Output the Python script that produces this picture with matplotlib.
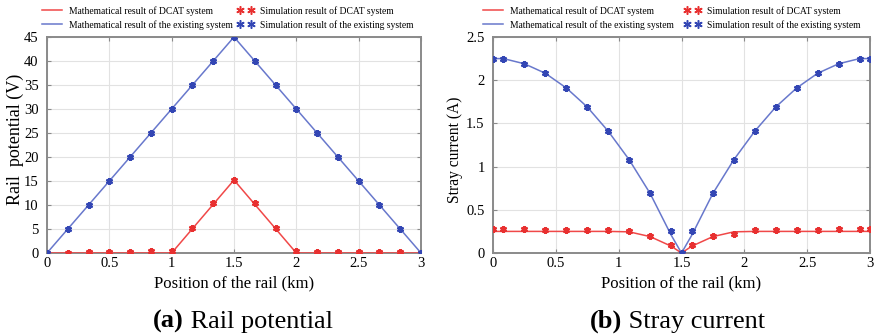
import matplotlib
matplotlib.use("Agg")
import matplotlib.pyplot as plt
from matplotlib.lines import Line2D

plt.rcParams['font.family'] = ['Liberation Serif', 'DejaVu Serif']

# ---- data: (a) rail potential ----
xa = [0, 1/6, 2/6, 3/6, 4/6, 5/6, 1, 7/6, 8/6, 9/6, 10/6, 11/6, 2, 13/6, 14/6, 15/6, 16/6, 17/6, 3]
a_exist_math = [0, 5, 10, 15, 20, 25, 30, 35, 40, 45, 40, 35, 30, 25, 20, 15, 10, 5, 0]
a_exist_sim = [0, 5, 10, 15, 20, 25, 30, 35, 40, 45, 40, 35, 30, 25, 20, 15, 10, 5, 0]
xa_dcat_line = [0, 1, 1.5, 2, 3]
a_dcat_math = [0, 0, 15.2, 0, 0]
a_dcat_sim = [0.1, 0.1, 0.2, 0.2, 0.3, 0.4, 0.4, 5.3, 10.4, 15.3, 10.4, 5.3, 0.4, 0.3, 0.2, 0.2, 0.2, 0.2, 0.1]

# ---- data: (b) stray current ----
xb = [0, 1/12, 3/12, 5/12, 7/12, 9/12, 11/12, 13/12, 15/12, 17/12, 1.5,
      19/12, 21/12, 23/12, 25/12, 27/12, 29/12, 31/12, 33/12, 35/12, 3]
b_exist_math = [2.25, 2.25, 2.19, 2.08, 1.91, 1.69, 1.41, 1.08, 0.69, 0.21, 0.0,
                0.21, 0.69, 1.08, 1.41, 1.69, 1.91, 2.08, 2.19, 2.25, 2.25]
b_exist_sim = [2.25, 2.25, 2.19, 2.08, 1.91, 1.69, 1.41, 1.08, 0.69, 0.25, 0.0,
               0.25, 0.69, 1.08, 1.41, 1.69, 1.91, 2.08, 2.19, 2.25, 2.25]
b_dcat_math = [0.25, 0.25, 0.25, 0.25, 0.25, 0.25, 0.25, 0.245, 0.19, 0.08, 0.0,
               0.08, 0.19, 0.245, 0.25, 0.25, 0.25, 0.25, 0.25, 0.25, 0.25]
b_dcat_sim = [0.28, 0.28, 0.28, 0.27, 0.27, 0.27, 0.27, 0.26, 0.2, 0.09, 0.0,
              0.09, 0.2, 0.22, 0.27, 0.27, 0.27, 0.27, 0.28, 0.28, 0.28]

xticks = [0, 0.5, 1, 1.5, 2, 2.5, 3]
xticklabels = ['0', '0.5', '1', '1.5', '2', '2.5', '3']
ya_ticks = [0, 5, 10, 15, 20, 25, 30, 35, 40, 45]
yb_ticks = [0, 0.5, 1, 1.5, 2, 2.5]
yb_ticklabels = ['0', '0.5', '1', '1.5', '2', '2.5']

math_labels = ['Mathematical result of DCAT system',
               'Mathematical result of the existing system']
sim_labels = ['Simulation result of DCAT system',
              'Simulation result of the existing system']

RED_L = '#f04848'
BLUE_L = '#6878cc'
RED_M = '#e83030'
BLUE_M = '#3346b4'
AST = (6, 2, 0)

W, H = 880, 335
fig = plt.figure(figsize=(8.8, 3.35), dpi=100)
axA = fig.add_axes([47 / W, 1 - 253 / H, 374 / W, 216 / H])
axB = fig.add_axes([493 / W, 1 - 253 / H, 377 / W, 216 / H])


def style(ax):
    ax.grid(True, color='#e2e2e2', linewidth=0.8)
    ax.set_axisbelow(True)
    for s in ax.spines.values():
        s.set_color('#8a8a8a')
        s.set_linewidth(1.4)
    ax.tick_params(direction='in', length=3, color='#8a8a8a', labelsize=10.5,
                   top=True, right=True)
    ax.tick_params(axis='y', pad=6)
    ax.tick_params(axis='x', pad=3)
    ax.set_xticks(xticks)
    ax.set_xticklabels(xticklabels)
    ax.set_xlim(0, 3)
    ax.set_xlabel('Position of the rail (km)', fontsize=12, labelpad=4)


FS = 6.9
EM = FS * 100 / 72


def legends(x_line, x_mark):
    top = 1 - 6 / H
    h1 = [Line2D([], [], color=RED_L, lw=1.1),
          Line2D([], [], color=BLUE_L, lw=1.1)]
    fig.legend(h1, math_labels, loc='upper left',
               bbox_to_anchor=(x_line / W, top), frameon=False,
               fontsize=FS, handlelength=20 / EM, handletextpad=7 / EM,
               labelspacing=0.45, borderpad=0, borderaxespad=0)
    h2 = [Line2D([], [], color=RED_M, ls='none', marker=AST, ms=6, mew=1.1),
          Line2D([], [], color=BLUE_M, ls='none', marker=AST, ms=6, mew=1.1)]
    fig.legend(h2, sim_labels, loc='upper left',
               bbox_to_anchor=((x_mark - 3) / W, top), frameon=False,
               fontsize=FS, numpoints=2, handlelength=17 / EM,
               handletextpad=6 / EM, labelspacing=0.45, borderpad=0,
               borderaxespad=0)


# (a)
axA.plot(xa, a_exist_math, color=BLUE_L, lw=1.1, zorder=3)
axA.plot(xa_dcat_line, a_dcat_math, color=RED_L, lw=1.1, zorder=3)
axA.plot(xa, a_dcat_sim, ls='none', marker=AST, ms=5, mew=1.6, color=RED_M, zorder=4)
axA.plot(xa, a_exist_sim, ls='none', marker=AST, ms=5, mew=1.6, color=BLUE_M, zorder=4)
style(axA)
axA.set_ylim(0, 45)
axA.set_yticks(ya_ticks)
axA.set_ylabel('Rail  potential (V)', fontsize=13)
axA.yaxis.set_label_coords(15 / W, 1 - 139.5 / H, transform=fig.transFigure)

# (b)
axB.plot(xb, b_exist_math, color=BLUE_L, lw=1.1, zorder=3)
axB.plot(xb, b_dcat_math, color=RED_L, lw=1.1, zorder=3)
axB.plot(xb, b_dcat_sim, ls='none', marker=AST, ms=5, mew=1.6, color=RED_M, zorder=4)
axB.plot(xb, b_exist_sim, ls='none', marker=AST, ms=5, mew=1.6, color=BLUE_M, zorder=4)
style(axB)
axB.set_ylim(0, 2.5)
axB.set_yticks(yb_ticks)
axB.set_yticklabels(yb_ticklabels)
axB.set_ylabel('Stray current (A)', fontsize=11.2)
axB.yaxis.set_label_coords(455 / W, 1 - 150 / H, transform=fig.transFigure)
for lab in (axA.yaxis.label, axB.yaxis.label):
    lab.set_va('center')

legends(42, 240)
legends(483, 687)

# captions: bold label followed by regular text
for x0, b, r in [(153, '(a)', ' Rail potential'), (590, '(b)', ' Stray current')]:
    t1 = fig.text(x0 / W, 1 - 333 / H, b, fontsize=18.9, fontweight='bold',
                  ha='left', va='bottom')
    fig.canvas.draw()
    bb = t1.get_window_extent()
    fig.text(bb.x1 / W, 1 - 333 / H, r, fontsize=18.9, ha='left', va='bottom')

fig.savefig('out.png', dpi=100)
